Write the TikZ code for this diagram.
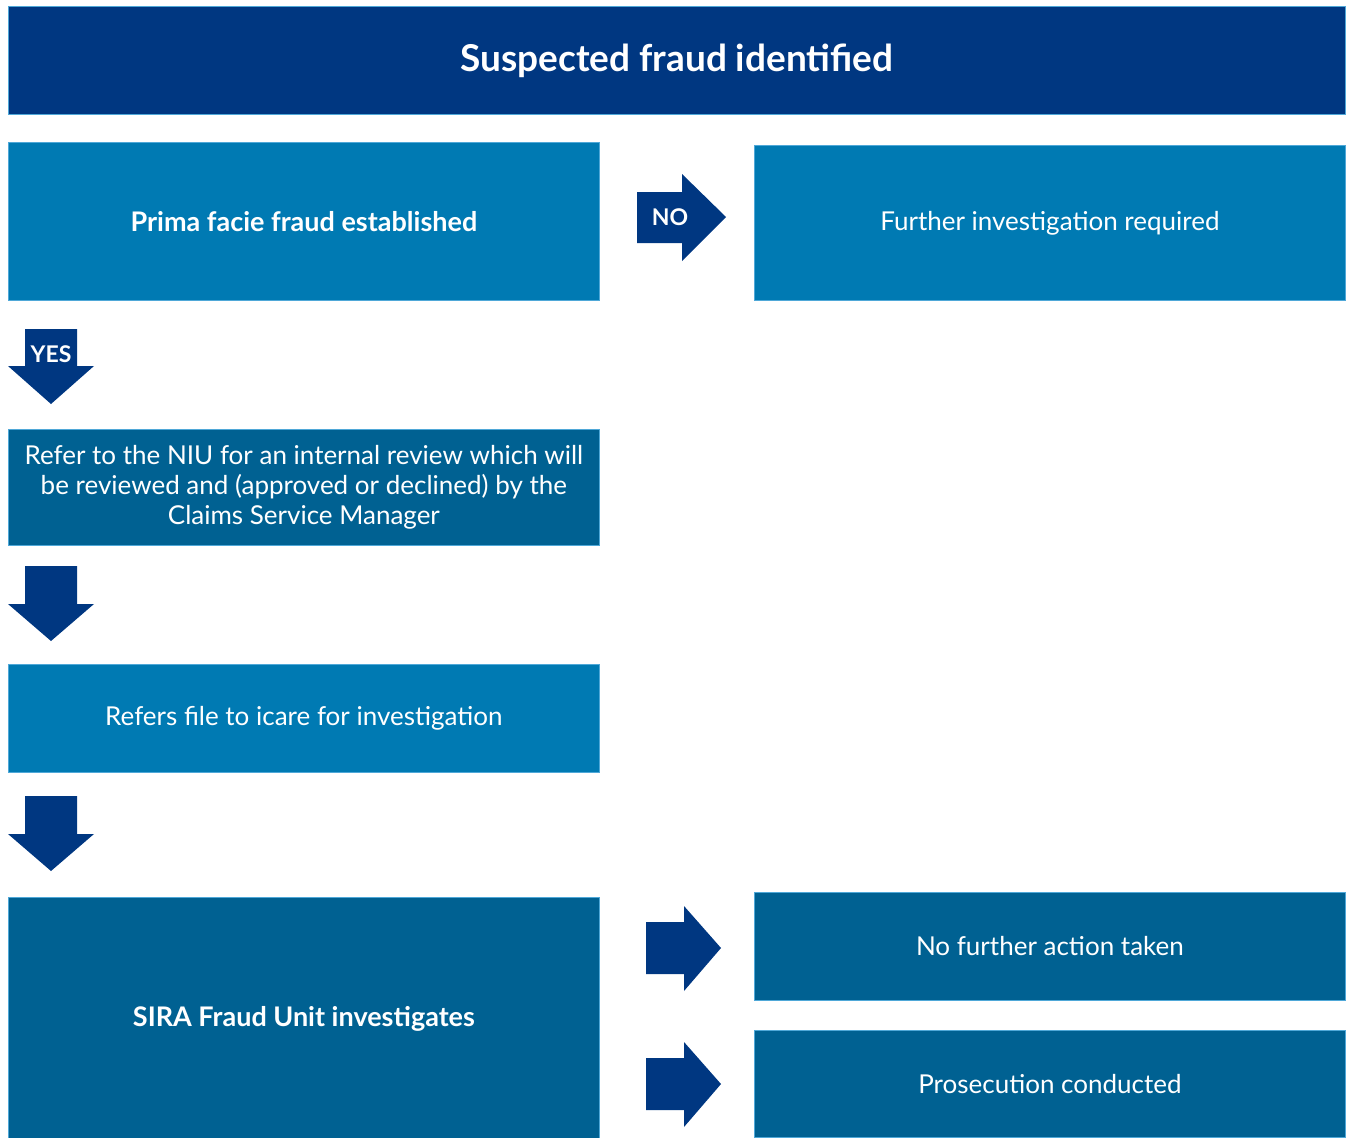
\documentclass[tikz,border=0pt]{standalone}
\usepackage{fontspec}
\setmainfont{Lato}
\definecolor{navy}{HTML}{003781}
\definecolor{midblue}{HTML}{007AB3}
\definecolor{deepblue}{HTML}{006192}
\definecolor{edgeblue}{HTML}{4FA8D8}
\begin{document}
\begin{tikzpicture}[x=1pt,y=-1pt,
  box/.style={draw=edgeblue,line width=0.8pt,inner sep=0pt,text=white,align=center,font=\fontsize{26}{30}\selectfont},
  boldbox/.style={box,font=\bfseries\fontsize{27}{30}\selectfont},
  blockarrow/.style={fill=navy,draw=none},
  arrowlabel/.style={text=white,font=\bfseries\fontsize{23}{24}\selectfont,inner sep=0pt}]
\useasboundingbox (0,0) rectangle (1351,1137);
% boxes
\node[box,fill=navy,minimum width=1337pt,minimum height=108pt,font=\bfseries\fontsize{37}{40}\selectfont,anchor=north west] (top) at (8,6) {Suspected fraud identified};
\node[boldbox,fill=midblue,minimum width=591pt,minimum height=158pt,anchor=north west] (prima) at (8,142) {Prima facie fraud established};
\node[box,fill=midblue,minimum width=591pt,minimum height=155pt,anchor=north west] (further) at (754,145) {Further investigation required};
\node[box,fill=deepblue,minimum width=591pt,minimum height=116pt,anchor=north west] (niu) at (8,429) {Refer to the NIU for an internal review which will\\be reviewed and (approved or declined) by the\\Claims Service Manager};
\node[box,fill=midblue,minimum width=591pt,minimum height=108pt,anchor=north west] (icare) at (8,664) {Refers file to icare for investigation};
\node[boldbox,fill=deepblue,minimum width=591pt,minimum height=242pt,anchor=north west] (sira) at (8,897) {SIRA Fraud Unit investigates};
\node[box,fill=deepblue,minimum width=591pt,minimum height=108pt,anchor=north west] (nfa) at (754,892) {No further action taken};
\node[box,fill=deepblue,minimum width=591pt,minimum height=107pt,anchor=north west] (pros) at (754,1030) {Prosecution conducted};
% block arrows
\fill[blockarrow] (637,192) -- (682,192) -- (682,174) -- (726,217) -- (682,261) -- (682,243) -- (637,243) -- cycle;
\node[arrowlabel] (no) at (670,217) {NO};
\fill[blockarrow] (25,329) -- (77,329) -- (77,366) -- (94,366) -- (51,404) -- (8,366) -- (25,366) -- cycle;
\node[arrowlabel] (yes) at (51,354) {YES};
\fill[blockarrow] (25,566) -- (77,566) -- (77,604) -- (94,604) -- (51,641) -- (8,604) -- (25,604) -- cycle;
\fill[blockarrow] (25,796) -- (77,796) -- (77,834) -- (94,834) -- (51,871) -- (8,834) -- (25,834) -- cycle;
\fill[blockarrow] (646,922) -- (684,922) -- (684,906) -- (721,948) -- (684,991) -- (684,974) -- (646,974) -- cycle;
\fill[blockarrow] (646,1058) -- (684,1058) -- (684,1042) -- (721,1084) -- (684,1127) -- (684,1110) -- (646,1110) -- cycle;
\end{tikzpicture}
\end{document}
